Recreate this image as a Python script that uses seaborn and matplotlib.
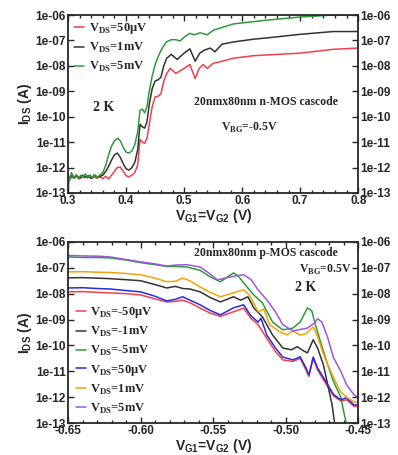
import numpy as np
import pandas as pd
import matplotlib
matplotlib.use('Agg')
import matplotlib.pyplot as plt
from matplotlib.ticker import FixedLocator, MultipleLocator, NullLocator
import seaborn as sns

sns.set_style('ticks')
plt.rcParams['font.family'] = ['Liberation Sans', 'DejaVu Sans']
plt.rcParams['font.weight'] = 'bold'
plt.rcParams['mathtext.fontset'] = 'custom'
plt.rcParams['mathtext.rm'] = 'Liberation Serif:bold'
plt.rcParams['mathtext.sf'] = 'Liberation Sans:bold'
plt.rcParams['mathtext.bf'] = 'Liberation Serif:bold'

# (V_G, log10 I_DS)
# --- top: n-MOS cascode
n_red = [(0.300, -12.95), (0.302, -12.45), (0.306, -12.38), (0.31, -12.42), (0.315, -12.35),
         (0.32, -12.44), (0.325, -12.37), (0.33, -12.40), (0.335, -12.33), (0.34, -12.43),
         (0.345, -12.38), (0.35, -12.42), (0.355, -12.36), (0.36, -12.44), (0.365, -12.35),
         (0.37, -12.45), (0.375, -12.30), (0.38, -12.15), (0.385, -12.0), (0.39, -11.98),
         (0.395, -12.15), (0.40, -12.32), (0.405, -12.37), (0.41, -12.3), (0.415, -12.2),
         (0.42, -11.9), (0.424, -10.9), (0.428, -11.0), (0.432, -11.05), (0.436, -10.85),
         (0.44, -10.3), (0.445, -9.6), (0.45, -9.22), (0.455, -9.2), (0.46, -9.1),
         (0.465, -8.6), (0.47, -8.3), (0.476, -8.1), (0.486, -8.3), (0.50, -8.1),
         (0.51, -7.95), (0.519, -8.5), (0.526, -8.1), (0.533, -7.95), (0.54, -8.1),
         (0.55, -7.9), (0.56, -7.85), (0.585, -7.7), (0.62, -7.6), (0.66, -7.55),
         (0.70, -7.5), (0.757, -7.35), (0.80, -7.3)]
n_black = [(0.300, -12.3), (0.303, -12.45), (0.307, -12.3), (0.31, -12.4), (0.315, -12.32),
           (0.32, -12.42), (0.325, -12.3), (0.33, -12.38), (0.335, -12.33), (0.34, -12.43),
           (0.345, -12.3), (0.35, -12.38), (0.355, -12.35), (0.36, -12.3), (0.365, -12.15),
           (0.37, -11.95), (0.375, -11.7), (0.38, -11.5), (0.385, -11.43), (0.39, -11.6),
           (0.395, -11.85), (0.40, -12.05), (0.405, -12.1), (0.41, -12.0), (0.415, -11.8),
           (0.42, -11.3), (0.424, -10.3), (0.428, -10.4), (0.432, -10.45), (0.436, -10.2),
           (0.44, -9.5), (0.445, -8.9), (0.45, -8.6), (0.455, -8.55), (0.46, -8.45),
           (0.465, -8.0), (0.47, -7.7), (0.478, -7.55), (0.488, -7.75), (0.50, -7.5),
           (0.51, -7.33), (0.519, -7.82), (0.527, -7.5), (0.535, -7.38), (0.545, -7.3),
           (0.553, -7.45), (0.565, -7.15), (0.585, -7.06), (0.62, -6.95), (0.643, -6.9),
           (0.70, -6.76), (0.757, -6.65), (0.80, -6.65)]
n_green = [(0.300, -12.25), (0.303, -12.5), (0.306, -12.2), (0.31, -12.4), (0.314, -12.28),
           (0.318, -12.45), (0.322, -12.3), (0.326, -12.38), (0.33, -12.25), (0.334, -12.42),
           (0.338, -12.3), (0.342, -12.4), (0.346, -12.28), (0.35, -12.38), (0.355, -12.3),
           (0.36, -12.2), (0.365, -11.9), (0.37, -11.5), (0.375, -11.15), (0.38, -10.95),
           (0.386, -10.85), (0.39, -10.95), (0.395, -11.2), (0.40, -11.4), (0.405, -11.43),
           (0.41, -11.35), (0.415, -11.1), (0.42, -10.6), (0.424, -9.75), (0.428, -9.7),
           (0.432, -9.85), (0.436, -9.6), (0.44, -9.0), (0.445, -8.4), (0.45, -7.95),
           (0.455, -7.65), (0.46, -7.4), (0.465, -7.2), (0.47, -7.05), (0.478, -6.97),
           (0.486, -6.97), (0.493, -7.02), (0.50, -6.87), (0.51, -6.72), (0.517, -6.78),
           (0.528, -6.7), (0.54, -6.78), (0.55, -6.6), (0.585, -6.35), (0.643, -6.2),
           (0.70, -6.08), (0.757, -6.0), (0.80, -5.96)]

# --- bottom: p-MOS cascode
p_red = [(-0.650, -7.93), (-0.64, -7.92), (-0.63, -7.95), (-0.621, -7.97), (-0.61, -8.0),
         (-0.60, -8.05), (-0.59, -8.2), (-0.582, -8.32), (-0.576, -8.3), (-0.571, -8.25),
         (-0.566, -8.35), (-0.559, -8.56), (-0.552, -8.75), (-0.545, -8.88), (-0.536, -8.7),
         (-0.529, -8.56), (-0.524, -8.95), (-0.519, -9.2), (-0.513, -9.73), (-0.507, -10.24),
         (-0.502, -10.56), (-0.495, -10.62), (-0.49, -10.5), (-0.486, -10.95), (-0.484, -11.2),
         (-0.481, -10.5), (-0.478, -10.95), (-0.471, -11.6), (-0.467, -11.95), (-0.462, -12.15),
         (-0.458, -12.1), (-0.453, -12.35), (-0.450, -12.35)]
p_black = [(-0.650, -7.39), (-0.64, -7.38), (-0.63, -7.4), (-0.621, -7.42), (-0.61, -7.46),
           (-0.60, -7.5), (-0.59, -7.65), (-0.582, -7.78), (-0.576, -7.72), (-0.571, -7.8),
           (-0.566, -7.82), (-0.559, -7.93), (-0.552, -8.15), (-0.545, -8.32), (-0.536, -8.12),
           (-0.531, -8.25), (-0.526, -8.12), (-0.522, -8.55), (-0.516, -8.9), (-0.509, -9.6),
           (-0.502, -10.1), (-0.496, -10.17), (-0.492, -10.05), (-0.488, -10.2), (-0.485, -10.29),
           (-0.481, -9.78), (-0.478, -10.1), (-0.474, -10.75), (-0.471, -11.52), (-0.468, -12.3),
           (-0.4655, -13.3)]
p_green = [(-0.650, -6.58), (-0.64, -6.6), (-0.63, -6.6), (-0.621, -6.62), (-0.61, -6.7),
           (-0.60, -6.8), (-0.59, -6.88), (-0.582, -6.95), (-0.575, -6.95), (-0.568, -6.97),
           (-0.559, -7.1), (-0.552, -7.35), (-0.545, -7.54), (-0.54, -7.35), (-0.536, -7.2),
           (-0.533, -7.3), (-0.529, -7.58), (-0.522, -8.05), (-0.516, -8.36), (-0.509, -9.1),
           (-0.502, -9.4), (-0.495, -9.33), (-0.49, -9.1), (-0.485, -8.55), (-0.482, -8.66),
           (-0.48, -9.1), (-0.476, -9.86), (-0.471, -10.75), (-0.467, -11.4), (-0.462, -12.0),
           (-0.46, -12.56), (-0.457, -13.3)]
p_blue = [(-0.650, -7.78), (-0.64, -7.77), (-0.63, -7.8), (-0.621, -7.82), (-0.61, -7.88),
          (-0.60, -7.93), (-0.59, -8.1), (-0.582, -8.28), (-0.576, -8.22), (-0.571, -8.12),
          (-0.566, -8.25), (-0.559, -8.43), (-0.552, -8.65), (-0.545, -8.82), (-0.536, -8.55),
          (-0.529, -8.43), (-0.524, -8.85), (-0.519, -9.1), (-0.517, -8.95), (-0.513, -9.6),
          (-0.507, -10.1), (-0.502, -10.45), (-0.495, -10.56), (-0.49, -10.44), (-0.486, -10.87),
          (-0.484, -11.14), (-0.481, -10.45), (-0.478, -10.87), (-0.471, -11.52), (-0.467, -11.9),
          (-0.462, -12.1), (-0.458, -12.02), (-0.453, -12.3), (-0.450, -12.3)]
p_orange = [(-0.650, -7.16), (-0.64, -7.15), (-0.63, -7.17), (-0.621, -7.18), (-0.61, -7.22),
            (-0.60, -7.27), (-0.59, -7.4), (-0.582, -7.54), (-0.576, -7.52), (-0.571, -7.4),
            (-0.566, -7.5), (-0.559, -7.74), (-0.552, -7.95), (-0.545, -8.12), (-0.536, -7.97),
            (-0.529, -7.85), (-0.525, -8.05), (-0.519, -8.7), (-0.515, -8.6), (-0.511, -9.2),
            (-0.504, -9.47), (-0.499, -9.59), (-0.495, -9.44), (-0.49, -9.6), (-0.486, -9.55),
            (-0.481, -9.28), (-0.478, -9.67), (-0.473, -10.48), (-0.467, -11.25), (-0.462, -11.8),
            (-0.458, -12.0), (-0.453, -12.18), (-0.450, -12.2)]
p_purple = [(-0.650, -6.52), (-0.64, -6.54), (-0.63, -6.55), (-0.621, -6.58), (-0.61, -6.68),
            (-0.60, -6.77), (-0.59, -6.85), (-0.582, -6.93), (-0.575, -6.89), (-0.568, -6.88),
            (-0.559, -6.97), (-0.553, -7.2), (-0.547, -7.47), (-0.542, -7.4), (-0.536, -7.33),
            (-0.529, -7.27), (-0.524, -7.45), (-0.519, -7.85), (-0.513, -8.24), (-0.507, -8.7),
            (-0.502, -9.2), (-0.495, -9.44), (-0.485, -9.33), (-0.48, -9.13), (-0.478, -8.97),
            (-0.475, -9.1), (-0.471, -9.7), (-0.467, -10.48), (-0.462, -11.0), (-0.458, -11.52),
            (-0.453, -11.9), (-0.450, -12.02)]

n_labels = ['V$_{\\mathrm{DS}}$=50μV', 'V$_{\\mathrm{DS}}$=1mV', 'V$_{\\mathrm{DS}}$=5mV']
p_labels = ['V$_{\\mathrm{DS}}$=-50μV', 'V$_{\\mathrm{DS}}$=-1mV', 'V$_{\\mathrm{DS}}$=-5mV',
            'V$_{\\mathrm{DS}}$=50μV', 'V$_{\\mathrm{DS}}$=1mV', 'V$_{\\mathrm{DS}}$=5mV']
n_xticks = [0.3, 0.4, 0.5, 0.6, 0.7, 0.8]
n_xticklabels = ['0.3', '0.4', '0.5', '0.6', '0.7', '0.8']
p_xticks = [-0.65, -0.60, -0.55, -0.50, -0.45]
p_xticklabels = ['-0.65', '-0.60', '-0.55', '-0.50', '-0.45']
y_exps = [-13, -12, -11, -10, -9, -8, -7, -6]

RED, BLACK, GREEN = '#f0404c', '#333333', '#2e9a3a'
BLUE, ORANGE, PURPLE = '#2a2ae0', '#f2a20a', '#9a5ad8'

fig = plt.figure(figsize=(3.98, 4.55), dpi=100)
ax1 = fig.add_axes([0.171, 0.576, 0.729, 0.391])
ax2 = fig.add_axes([0.171, 0.0703, 0.729, 0.398])


def draw(ax, series, colors, labels):
    for pts, c, lab in zip(series, colors, labels):
        df = pd.DataFrame(pts, columns=['vg', 'logi'])
        df['ids'] = 10.0 ** df['logi']
        sns.lineplot(data=df, x='vg', y='ids', color=c, lw=1.1, ax=ax,
                     estimator=None, sort=False, label=lab, legend=False)


draw(ax1, [n_red, n_black, n_green], [RED, BLACK, GREEN], n_labels)
draw(ax2, [p_red, p_black, p_green, p_blue, p_orange, p_purple],
     [RED, BLACK, GREEN, BLUE, ORANGE, PURPLE], p_labels)

serif = ['Liberation Serif', 'DejaVu Serif']
ytl = ['1e-%02d' % (-e) for e in y_exps]
for ax, xt, xtl, xlim, minor in [(ax1, n_xticks, n_xticklabels, (0.3, 0.8), 0.02),
                                  (ax2, p_xticks, p_xticklabels, (-0.65, -0.45), 0.01)]:
    ax.set_yscale('log')
    ax.set_ylim(1e-13, 1e-6)
    ax.set_xlim(*xlim)
    ax.yaxis.set_major_locator(FixedLocator([10.0 ** e for e in y_exps]))
    ax.yaxis.set_minor_locator(NullLocator())
    ax.set_yticklabels(ytl, fontweight='bold')
    ax.xaxis.set_major_locator(FixedLocator(xt))
    ax.set_xticklabels(xtl, fontweight='bold')
    ax.xaxis.set_minor_locator(MultipleLocator(minor))
    ax.tick_params(which='both', direction='in', top=True, right=True, labelright=True,
                   labelsize=8.5, pad=1.5, width=1.0)
    ax.tick_params(which='major', length=4)
    ax.tick_params(which='minor', length=2)
    for s in ax.spines.values():
        s.set_linewidth(1.3)
    ax.set_ylabel('I$_{\\mathsf{DS}}$ (A)', fontsize=10, fontweight='bold', labelpad=1)
    ax.set_xlabel('V$_{\\mathsf{G1}}$=V$_{\\mathsf{G2}}$ (V)', fontsize=10, fontweight='bold',
                  labelpad=0)

leg1 = ax1.legend(loc='upper left', frameon=False, handlelength=0.8,
                  handletextpad=0.35, labelspacing=0.4, borderaxespad=0.1,
                  prop={'family': serif, 'weight': 'bold', 'size': 9})
leg2 = ax2.legend(loc='lower left', frameon=False, handlelength=0.8,
                  handletextpad=0.35, labelspacing=0.38, borderaxespad=0.2,
                  prop={'family': serif, 'weight': 'bold', 'size': 9})

ax1.text(0.124, 0.478, '2 K', transform=ax1.transAxes, ha='center', va='center',
         family=serif, fontweight='bold', fontsize=10)
ax1.text(0.683, 0.511, '20nmx80nm n-MOS cascode', transform=ax1.transAxes, ha='center',
         va='center', family=serif, fontweight='bold', fontsize=8.5)
ax1.text(0.624, 0.365, 'V$_{\\mathrm{BG}}$=-0.5V', transform=ax1.transAxes, ha='center',
         va='center', family=serif, fontweight='bold', fontsize=8.5)

ax2.text(0.683, 0.939, '20nmx80nm p-MOS cascode', transform=ax2.transAxes, ha='center',
         va='center', family=serif, fontweight='bold', fontsize=8.5)
ax2.text(0.886, 0.845, 'V$_{\\mathrm{BG}}$=0.5V', transform=ax2.transAxes, ha='center',
         va='center', family=serif, fontweight='bold', fontsize=8.5)
ax2.text(0.82, 0.751, '2 K', transform=ax2.transAxes, ha='center', va='center',
         family=serif, fontweight='bold', fontsize=10)

fig.savefig('out.png', dpi=100)
